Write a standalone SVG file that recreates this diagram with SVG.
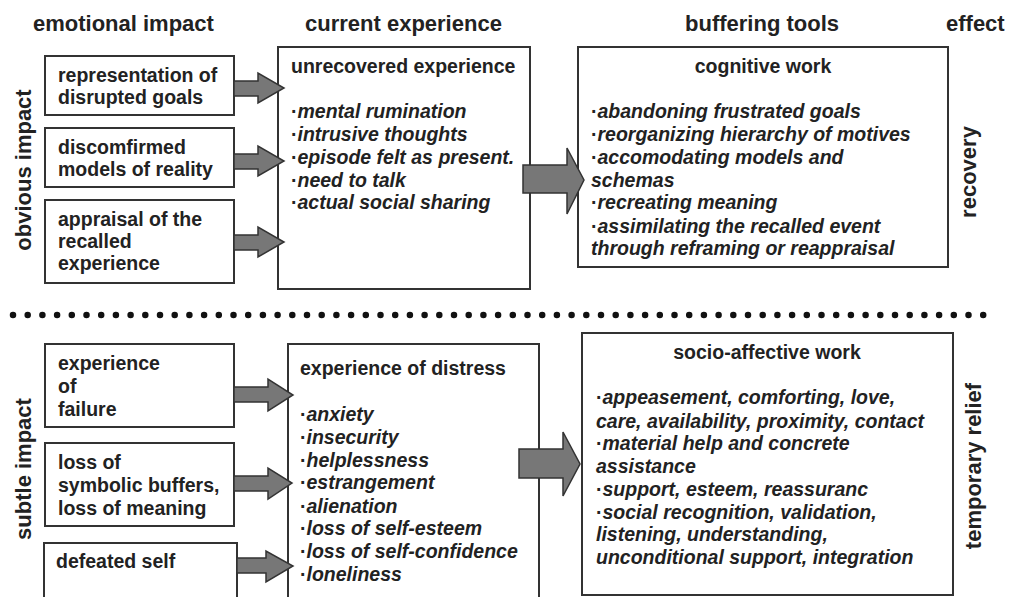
<svg xmlns="http://www.w3.org/2000/svg" width="1010" height="597" viewBox="0 0 1010 597">
<style>
text{font-family:"Liberation Sans",Arial,sans-serif;font-weight:bold;fill:#222}
.h{font-size:22px}
.t{font-size:19.5px}
.i{font-size:19.5px;font-style:italic}
.box{fill:#fff;stroke:#333;stroke-width:2}
.arr{fill:#777;stroke:#333;stroke-width:1.5;stroke-linejoin:miter}
.b{font-style:normal}
</style>
<rect width="1010" height="597" fill="#fff"/>
<g id="headers">
<text class="h" x="33" y="31">emotional impact</text>
<text class="h" x="305" y="31">current experience</text>
<text class="h" x="685" y="31">buffering tools</text>
<text class="h" x="946" y="31">effect</text>
<text class="h" transform="translate(31,170) rotate(-90)" text-anchor="middle">obvious impact</text>
<text class="h" transform="translate(976,172) rotate(-90)" text-anchor="middle">recovery</text>
<text class="h" transform="translate(31,469) rotate(-90)" text-anchor="middle">subtle impact</text>
<text class="h" transform="translate(981,466) rotate(-90)" text-anchor="middle">temporary relief</text>
</g>
<g id="separator">
<path d="M13,315 H996" stroke="#111" stroke-width="6.5" stroke-linecap="round" stroke-dasharray="0 14.7" fill="none"/>
</g>
<g id="n1"><rect class="box" x="45" y="56" width="189" height="59"/>
<text class="t" x="58" y="82">representation of</text><text class="t" x="58" y="104">disrupted goals</text></g>
<g id="n2"><rect class="box" x="45" y="128" width="189" height="59"/>
<text class="t" x="58" y="154">discomfirmed</text><text class="t" x="58" y="176">models of reality</text></g>
<g id="n3"><rect class="box" x="45" y="200" width="189" height="83"/>
<text class="t" x="58" y="226">appraisal of the</text><text class="t" x="58" y="248">recalled</text><text class="t" x="58" y="270">experience</text></g>
<g id="n4"><rect class="box" x="278" y="47" width="252" height="242"/>
<text class="t" x="291" y="73">unrecovered experience</text>
<text class="i" x="291" y="118"><tspan class="b">·</tspan>mental rumination</text>
<text class="i" x="291" y="141"><tspan class="b">·</tspan>intrusive thoughts</text>
<text class="i" x="291" y="164"><tspan class="b">·</tspan>episode felt as present.</text>
<text class="i" x="291" y="187"><tspan class="b">·</tspan>need to talk</text>
<text class="i" x="291" y="209"><tspan class="b">·</tspan>actual social sharing</text></g>
<g id="n5"><rect class="box" x="578" y="47" width="370" height="220"/>
<text class="t" x="763" y="73" text-anchor="middle">cognitive work</text>
<text class="i" x="591" y="118"><tspan class="b">·</tspan>abandoning frustrated goals</text>
<text class="i" x="591" y="141"><tspan class="b">·</tspan>reorganizing hierarchy of motives</text>
<text class="i" x="591" y="164"><tspan class="b">·</tspan>accomodating models and</text>
<text class="i" x="591" y="187">schemas</text>
<text class="i" x="591" y="209"><tspan class="b">·</tspan>recreating meaning</text>
<text class="i" x="591" y="233"><tspan class="b">·</tspan>assimilating the recalled event</text>
<text class="i" x="591" y="255">through reframing or reappraisal</text></g>
<g id="n6"><rect class="box" x="45" y="344" width="189" height="83"/>
<text class="t" x="58" y="370">experience</text><text class="t" x="58" y="393">of</text><text class="t" x="58" y="416">failure</text></g>
<g id="n7"><rect class="box" x="45" y="443" width="189" height="83"/>
<text class="t" x="58" y="469">loss of</text><text class="t" x="58" y="492">symbolic buffers,</text><text class="t" x="58" y="515">loss of meaning</text></g>
<g id="n8"><rect class="box" x="44" y="543" width="193" height="70"/>
<text class="t" x="56" y="568">defeated self</text></g>
<g id="n9"><rect class="box" x="288" y="344" width="251" height="270"/>
<text class="t" x="300" y="375">experience of distress</text>
<text class="i" x="300" y="421"><tspan class="b">·</tspan>anxiety</text>
<text class="i" x="300" y="444"><tspan class="b">·</tspan>insecurity</text>
<text class="i" x="300" y="467"><tspan class="b">·</tspan>helplessness</text>
<text class="i" x="300" y="489"><tspan class="b">·</tspan>estrangement</text>
<text class="i" x="300" y="513"><tspan class="b">·</tspan>alienation</text>
<text class="i" x="300" y="535"><tspan class="b">·</tspan>loss of self-esteem</text>
<text class="i" x="300" y="558"><tspan class="b">·</tspan>loss of self-confidence</text>
<text class="i" x="300" y="581"><tspan class="b">·</tspan>loneliness</text></g>
<g id="n10"><rect class="box" x="582" y="333" width="371" height="262"/>
<text class="t" x="767" y="359" text-anchor="middle">socio-affective work</text>
<text class="i" x="596" y="404"><tspan class="b">·</tspan>appeasement, comforting, love,</text>
<text class="i" x="596" y="428">care, availability, proximity, contact</text>
<text class="i" x="596" y="450"><tspan class="b">·</tspan>material help and concrete</text>
<text class="i" x="596" y="473">assistance</text>
<text class="i" x="596" y="496"><tspan class="b">·</tspan>support, esteem, reassuranc</text>
<text class="i" x="596" y="519"><tspan class="b">·</tspan>social recognition, validation,</text>
<text class="i" x="596" y="541">listening, understanding,</text>
<text class="i" x="596" y="564">unconditional support, integration</text></g>
<g id="connectors">
<path class="arr" d="M234,81 H258 V73 L284,88 L258,103 V96 H234 Z"/>
<path class="arr" d="M234,154 H258 V146 L284,161 L258,176 V169 H234 Z"/>
<path class="arr" d="M234,235 H258 V227 L284,242 L258,257 V250 H234 Z"/>
<path class="arr" d="M523,165 H567 V148 L584,180 L567,214 V193 H523 Z"/>
<path class="arr" d="M234,387 H268 V379 L293,395 L268,411 V402 H234 Z"/>
<path class="arr" d="M234,476 H268 V468 L292,483 L268,499 V491 H234 Z"/>
<path class="arr" d="M237,558 H266 V551 L293,566 L266,582 V573 H237 Z"/>
<path class="arr" d="M519,449 H563 V432 L580,464 L563,496 V478 H519 Z"/>
</g>
</svg>
